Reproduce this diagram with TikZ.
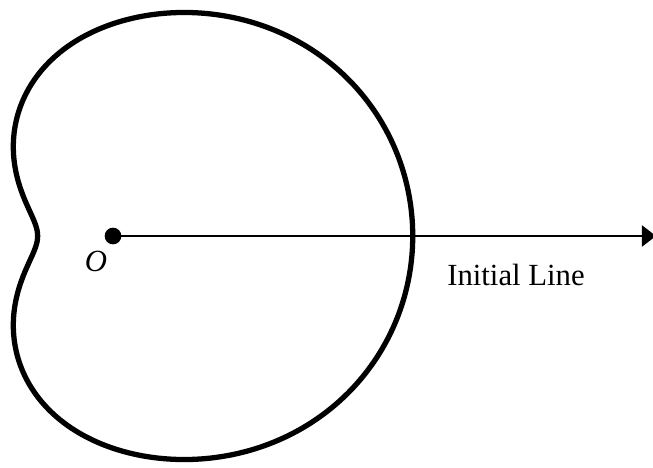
\documentclass[tikz,border=0pt]{standalone}
\usepackage{fontspec}
\setmainfont{Liberation Serif}
\usetikzlibrary{arrows.meta}

\begin{document}
\begin{tikzpicture}[
  x=0.02cm, y=-0.02cm,
  font=\fontsize{17.5}{20}\selectfont,
  declare function={polr(\t)=202.6+102*cos(\t)-12.35*cos(2*\t)+10.2*cos(3*\t)-2.7*cos(4*\t);},
  curve/.style={line width=3pt, draw=black, line join=round},
  axis/.style={-{Triangle[length=8pt, width=12pt]}, line width=1.1pt, draw=black},
  pole/.style={circle, fill=black, inner sep=0pt},
  lbl/.style={inner sep=0pt, anchor=base}
]

\def\ox{113}
\def\oy{236}

% Picture frame, same proportions as the page.
\useasboundingbox (0,0) rectangle (653,467);

% Closed polar curve round the pole, r given by polr().
\draw[curve] plot[domain=0:360, samples=181, smooth, variable=\t]
  ({\ox+polr(\t)*cos(\t)}, {\oy-polr(\t)*sin(\t)}) -- cycle;

% Pole and initial line.
\node[pole, minimum size=9.5pt] (O) at (\ox,\oy) {};
\coordinate (lineend) at (656,\oy);
\draw[axis] (O.center) -- (lineend);

\node[lbl] (Olabel) at (96,271) {\textit{O}};
\node[lbl] (initlabel) at (516,285) {Initial Line};

\end{tikzpicture}
\end{document}
